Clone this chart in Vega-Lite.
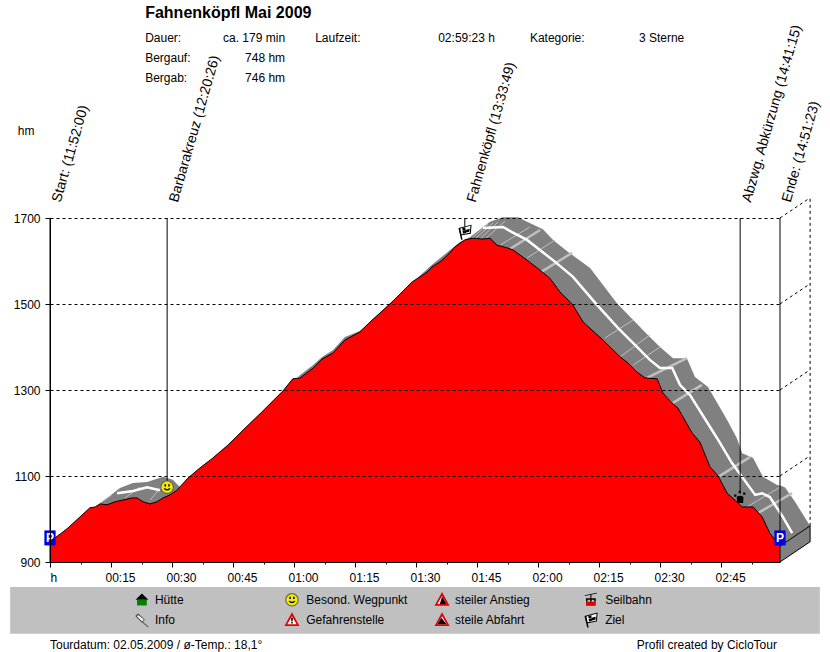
{
  "$schema": "https://vega.github.io/schema/vega-lite/v6.json",
  "width": 730,
  "height": 344,
  "autosize": "none",
  "padding": {"left": 50, "top": 218, "right": 50, "bottom": 90},
  "background": "white",
  "config": {"view": {"stroke": null}, "font": "Liberation Sans"},
  "datasets": {
    "profile": [
      {"min":0,"hm":942},{"min":1.2,"hm":956},{"min":3.2,"hm":970},{"min":4.4,"hm":979},{"min":7.4,"hm":1005},{"min":9.8,"hm":1026},{"min":11.1,"hm":1028},{"min":12.3,"hm":1035},{"min":14,"hm":1033},{"min":16,"hm":1040},{"min":17.9,"hm":1044},{"min":20.2,"hm":1049},{"min":21.4,"hm":1049},{"min":22.9,"hm":1040},{"min":24.6,"hm":1035},{"min":26.3,"hm":1040},{"min":27.8,"hm":1049},{"min":29.5,"hm":1056},{"min":31.2,"hm":1067},{"min":33.9,"hm":1095},{"min":36.9,"hm":1119},{"min":39.8,"hm":1140},{"min":41.8,"hm":1156},{"min":43.8,"hm":1172},{"min":47.5,"hm":1207},{"min":52.1,"hm":1249},{"min":57.3,"hm":1298},{"min":59.7,"hm":1326},{"min":61.5,"hm":1328},{"min":64.7,"hm":1351},{"min":66.9,"hm":1372},{"min":69.6,"hm":1386},{"min":72.5,"hm":1416},{"min":76.2,"hm":1435},{"min":78.7,"hm":1458},{"min":83.6,"hm":1500},{"min":89,"hm":1551},{"min":92.7,"hm":1574},{"min":93.9,"hm":1586},{"min":95.9,"hm":1598},{"min":97.6,"hm":1612},{"min":99.6,"hm":1633},{"min":102,"hm":1649},{"min":104,"hm":1653},{"min":106.5,"hm":1651},{"min":108.2,"hm":1653},{"min":109.9,"hm":1637},{"min":112.6,"hm":1630},{"min":113.8,"hm":1626},{"min":116.3,"hm":1609},{"min":119.8,"hm":1584},{"min":122.9,"hm":1560},{"min":125.4,"hm":1528},{"min":128.4,"hm":1500},{"min":131.1,"hm":1458},{"min":136,"hm":1416},{"min":140.2,"hm":1377},{"min":142.1,"hm":1363},{"min":144.3,"hm":1342},{"min":146.3,"hm":1328},{"min":149.3,"hm":1326},{"min":150.7,"hm":1293},{"min":152.9,"hm":1270},{"min":154.4,"hm":1258},{"min":157.9,"hm":1200},{"min":159.8,"hm":1179},{"min":162.3,"hm":1121},{"min":164.3,"hm":1100},{"min":166.5,"hm":1060},{"min":168.9,"hm":1040},{"min":170.2,"hm":1028},{"min":172.9,"hm":1028},{"min":175.1,"hm":1005},{"min":177,"hm":967},{"min":179.5,"hm":937}
    ],
    "band": [
      {"min":11.1,"hm":1028,"base":1000},{"min":14,"hm":1049,"base":1000},{"min":17.2,"hm":1072,"base":1000},{"min":20.4,"hm":1084,"base":1000},{"min":23.9,"hm":1086,"base":1000},{"min":27.8,"hm":1098,"base":1000},{"min":30.2,"hm":1091,"base":1000},{"min":32,"hm":1074,"base":1000},{"min":33.4,"hm":1081,"base":1000},{"min":59,"hm":1309,"base":1000},{"min":61.5,"hm":1335,"base":1000},{"min":64.7,"hm":1358,"base":1000},{"min":66.9,"hm":1377,"base":1000},{"min":69.6,"hm":1393,"base":1000},{"min":72.5,"hm":1423,"base":1000},{"min":76.2,"hm":1437,"base":1000},{"min":83.6,"hm":1502,"base":1000},{"min":93.9,"hm":1591,"base":1000},{"min":100.8,"hm":1644,"base":1000},{"min":103.3,"hm":1656,"base":1000},{"min":108.2,"hm":1691,"base":1000},{"min":111.4,"hm":1702,"base":1000},{"min":115.1,"hm":1702,"base":1000},{"min":117.3,"hm":1691,"base":1000},{"min":121.2,"hm":1674,"base":1000},{"min":123.7,"hm":1649,"base":1000},{"min":127.4,"hm":1621,"base":1000},{"min":132.8,"hm":1584,"base":1000},{"min":139.4,"hm":1502,"base":1000},{"min":143.4,"hm":1463,"base":1000},{"min":147,"hm":1428,"base":1000},{"min":150,"hm":1400,"base":1000},{"min":153.2,"hm":1374,"base":1000},{"min":156.6,"hm":1374,"base":1000},{"min":158.6,"hm":1330,"base":1000},{"min":161.8,"hm":1307,"base":1000},{"min":166.5,"hm":1230,"base":1000},{"min":168.9,"hm":1188,"base":1000},{"min":170.2,"hm":1153,"base":1000},{"min":172.9,"hm":1142,"base":950},{"min":175.3,"hm":1098,"base":900},{"min":178.8,"hm":1079,"base":900},{"min":179.5,"hm":1078,"base":900},{"min":180.7,"hm":1074,"base":908},{"min":183.2,"hm":1040,"base":923},{"min":186.9,"hm":984,"base":947}
    ],
    "whiteLine": [
      {"seg":"a","min":16.5,"hm":1060},{"seg":"a","min":20.4,"hm":1065},{"seg":"a","min":23.9,"hm":1074},{"seg":"a","min":27,"hm":1067},
      {"seg":"b","min":106.5,"hm":1677},{"seg":"b","min":111.4,"hm":1679},{"seg":"b","min":113.6,"hm":1667},{"seg":"b","min":117.3,"hm":1649},{"seg":"b","min":124.2,"hm":1598},{"seg":"b","min":128.6,"hm":1563},{"seg":"b","min":134.5,"hm":1498},{"seg":"b","min":139.7,"hm":1444},{"seg":"b","min":143.4,"hm":1409},{"seg":"b","min":147.5,"hm":1370},{"seg":"b","min":150,"hm":1351},{"seg":"b","min":153,"hm":1351},{"seg":"b","min":154.9,"hm":1312},{"seg":"b","min":157.4,"hm":1288},{"seg":"b","min":162.3,"hm":1214},{"seg":"b","min":164.3,"hm":1184},{"seg":"b","min":167.7,"hm":1130},{"seg":"b","min":173.4,"hm":1056},{"seg":"b","min":175.1,"hm":1060},{"seg":"b","min":177,"hm":1051},{"seg":"b","min":180.2,"hm":1005},{"seg":"b","min":182.5,"hm":967}
    ],
    "tiesThick": [
      {"min":113.1,"hm":1628,"min2":120.5,"hm2":1672},{"min":120.7,"hm":1574,"min2":128.4,"hm2":1619},{"min":146.8,"hm":1328,"min2":156.6,"hm2":1374},{"min":153.2,"hm":1270,"min2":160.3,"hm2":1312},{"min":164.3,"hm":1098,"min2":172.1,"hm2":1144},{"min":174.1,"hm":1014,"min2":182.5,"hm2":1060}
    ],
    "tiesThin": [
      {"min":110.7,"hm":1637,"min2":118,"hm2":1679},{"min":117.3,"hm":1607,"min2":124.2,"hm2":1649},{"min":136.5,"hm":1421,"min2":143.4,"hm2":1463},{"min":140.2,"hm":1377,"min2":147.5,"hm2":1428},{"min":143.4,"hm":1358,"min2":150,"hm2":1400},{"min":171.4,"hm":1028,"min2":179.5,"hm2":1074},{"min":103.3,"hm":1649,"min2":107.7,"hm2":1686},{"min":104.5,"hm":1651,"min2":108.9,"hm2":1688},{"min":105.7,"hm":1651,"min2":110.2,"hm2":1691},{"min":107,"hm":1651,"min2":111.9,"hm2":1693},{"min":12.3,"hm":1037,"min2":15.2,"hm2":1056},{"min":18.4,"hm":1049,"min2":22.1,"hm2":1074},{"min":24.6,"hm":1044,"min2":28.3,"hm2":1084}
    ],
    "solidRules": [
      {"min":0,"hm":900,"min2":0,"hm2":1700},{"min":179.5,"hm":900,"min2":179.5,"hm2":1700},{"min":28.8,"hm":1080,"min2":28.8,"hm2":1700},{"min":102,"hm":1680,"min2":102,"hm2":1700},{"min":169.7,"hm":1060,"min2":169.7,"hm2":1700},{"min":179.5,"hm":900,"min2":186.9,"hm2":947},{"min":179.5,"hm":937,"min2":186.9,"hm2":984},{"min":186.9,"hm":947,"min2":186.9,"hm2":984}
    ],
    "dashRules": [
      {"min":179.5,"hm":1700,"min2":186.9,"hm2":1747},{"min":179.5,"hm":1500,"min2":186.9,"hm2":1547},{"min":179.5,"hm":1300,"min2":186.9,"hm2":1347},{"min":179.5,"hm":1100,"min2":186.9,"hm2":1147},{"min":186.9,"hm":984,"min2":186.9,"hm2":1747}
    ],
    "legendBox": [{"min":-9.8,"min2":189.3,"hm":842,"hm2":733}],
    "waypoints": [
      {"label":"Start: (11:52:00)","min":0,"hm":1742},{"label":"Barbarakreuz (12:20:26)","min":28.8,"hm":1742},{"label":"Fahnenköpfl (13:33:49)","min":102,"hm":1742},{"label":"Abzwg. Abkürzung (14:41:15)","min":169.7,"hm":1742},{"label":"Ende: (14:51:23)","min":179.5,"hm":1742}
    ],
    "textLeft": [
      {"label":"Dauer:","min":23.4,"hm":2119},{"label":"Bergauf:","min":23.4,"hm":2072},{"label":"Bergab:","min":23.4,"hm":2026},{"label":"Laufzeit:","min":65.2,"hm":2119},{"label":"Kategorie:","min":118,"hm":2119},{"label":"3 Sterne","min":144.8,"hm":2119},{"label":"hm","min":-7.9,"hm":1902},
      {"label":"Hütte","min":25.8,"hm":812},{"label":"Info","min":25.8,"hm":765},{"label":"Besond. Wegpunkt","min":63,"hm":812},{"label":"Gefahrenstelle","min":63,"hm":765},{"label":"steiler Anstieg","min":99.6,"hm":812},{"label":"steile Abfahrt","min":99.6,"hm":765},{"label":"Seilbahn","min":136.5,"hm":812},{"label":"Ziel","min":136.5,"hm":765},
      {"label":"Tourdatum: 02.05.2009  /  ø-Temp.: 18,1°","min":0,"hm":707},{"label":"Profil created by CicloTour","min":144.3,"hm":707}
    ],
    "textRight": [
      {"label":"ca. 179 min","min":57.8,"hm":2119},{"label":"748 hm","min":57.8,"hm":2072},{"label":"746 hm","min":57.8,"hm":2026},{"label":"02:59:23 h","min":109.4,"hm":2119}
    ],
    "heading": [{"label":"Fahnenköpfl Mai 2009","min":23.4,"hm":2177}],
    "parking": [{"label":"P","min":0,"hm":956},{"label":"P","min":179.5,"hm":956}],
    "icons": [
      {"part":"pbox","min":0,"hm":956},{"part":"pbox","min":179.5,"hm":956},
      {"part":"flagEdge","min":102,"hm":1667},{"part":"flag","min":102,"hm":1667},{"part":"flagpole","min":102,"hm":1667},{"part":"checks","min":102,"hm":1667},
      {"part":"smileEdge","min":28.8,"hm":1074},{"part":"smile","min":28.8,"hm":1074},{"part":"face","min":28.8,"hm":1074},
      {"part":"paw","min":169.7,"hm":1051},
      {"part":"roof","min":22.6,"hm":812},{"part":"hut","min":22.6,"hm":812},
      {"part":"pinEdge","min":22.6,"hm":765},{"part":"pin","min":22.6,"hm":765},
      {"part":"smileEdge","min":59.5,"hm":812},{"part":"smile","min":59.5,"hm":812},{"part":"face","min":59.5,"hm":812},
      {"part":"warn","min":59.5,"hm":765},{"part":"warnIn","min":59.5,"hm":765},{"part":"bang","min":59.5,"hm":765},
      {"part":"warn","min":96.4,"hm":812},{"part":"warnIn","min":96.4,"hm":812},{"part":"climb","min":96.4,"hm":812},
      {"part":"warn","min":96.4,"hm":765},{"part":"warnIn","min":96.4,"hm":765},{"part":"descent","min":96.4,"hm":765},
      {"part":"cable","min":133,"hm":812},{"part":"cabin","min":133,"hm":812},
      {"part":"flagEdge","min":133,"hm":765},{"part":"flag","min":133,"hm":765},{"part":"flagpole","min":133,"hm":765},{"part":"checks","min":133,"hm":765}
    ]
  },
  "encoding": {
    "x": {
      "field": "min",
      "type": "quantitative",
      "scale": {"domain": [0, 179.5], "nice": false, "zero": false},
      "axis": {
        "title": null,
        "zindex": 1,
        "grid": false,
        "values": [0,7.5,15,22.5,30,37.5,45,52.5,60,67.5,75,82.5,90,97.5,105,112.5,120,127.5,135,142.5,150,157.5,165,172.5],
        "labelExpr": "datum.value == 0 ? 'h' : (datum.value % 15 != 0 ? '' : pad(floor(datum.value / 60), 2, '0', 'left') + ':' + pad(datum.value % 60, 2, '0', 'left'))",
        "labelAlign": "left",
        "labelOffset": {"condition": {"test": "datum.value == 0", "value": 0}, "value": -6},
        "labelOverlap": false,
        "labelFlush": false,
        "labelFontSize": 12,
        "labelFont": "Liberation Sans",
        "labelColor": "black",
        "labelPadding": 5,
        "tickColor": "black",
        "tickSize": {"condition": {"test": "datum.value % 15 == 0", "value": 5}, "value": 2},
        "domainColor": "black"
      }
    },
    "y": {
      "field": "hm",
      "type": "quantitative",
      "scale": {"domain": [900, 1700], "nice": false, "zero": false},
      "axis": {
        "title": null,
        "zindex": 1,
        "values": [900, 1100, 1300, 1500, 1700],
        "format": "d",
        "grid": true,
        "gridColor": "black",
        "gridDash": [3, 3],
        "gridOpacity": 1,
        "labelFontSize": 12,
        "labelFont": "Liberation Sans",
        "labelColor": "black",
        "labelPadding": 5,
        "tickColor": "black",
        "tickSize": 5,
        "domainColor": "black"
      }
    }
  },
  "layer": [
    {
      "data": {"name": "legendBox"},
      "mark": {"type": "rect", "color": "#c0c0c0"},
      "encoding": {"x2": {"field": "min2"}, "y2": {"field": "hm2"}}
    },
    {
      "data": {"name": "band"},
      "mark": {"type": "area", "color": "#808080", "opacity": 1},
      "encoding": {"y2": {"field": "base"}}
    },
    {
      "data": {"name": "tiesThick"},
      "mark": {"type": "rule", "color": "#c0c0c0", "strokeWidth": 2.5},
      "encoding": {"x2": {"field": "min2"}, "y2": {"field": "hm2"}}
    },
    {
      "data": {"name": "tiesThin"},
      "mark": {"type": "rule", "color": "#c0c0c0", "strokeWidth": 1},
      "encoding": {"x2": {"field": "min2"}, "y2": {"field": "hm2"}}
    },
    {
      "data": {"name": "whiteLine"},
      "mark": {"type": "line", "color": "white", "strokeWidth": 2.5, "interpolate": "linear"},
      "encoding": {"detail": {"field": "seg"}}
    },
    {
      "data": {"name": "profile"},
      "mark": {"type": "area", "color": "#ff0000", "opacity": 1},
      "encoding": {"y2": {"datum": 900}}
    },
    {
      "data": {"name": "profile"},
      "mark": {"type": "line", "color": "black", "strokeWidth": 1}
    },
    {
      "data": {"name": "solidRules"},
      "mark": {"type": "rule", "color": "black", "strokeWidth": 1},
      "encoding": {"x2": {"field": "min2"}, "y2": {"field": "hm2"}}
    },
    {
      "data": {"name": "dashRules"},
      "mark": {"type": "rule", "color": "black", "strokeWidth": 1, "strokeDash": [3, 3]},
      "encoding": {"x2": {"field": "min2"}, "y2": {"field": "hm2"}}
    },
    {
      "data": {"name": "icons"},
      "mark": {"type": "point", "filled": true, "size": 225, "opacity": 1},
      "encoding": {
        "shape": {
          "field": "part",
          "legend": null,
          "scale": {
            "domain": ["pbox","flagEdge","flag","flagpole","checks","smileEdge","smile","face","paw","roof","hut","pinEdge","pin","warn","warnIn","bang","climb","descent","cable","cabin"],
            "range": [
              "M-.75 -1H.75V1H-.75Z",
              "M-.85 -.55L.9 -1L.8 .2L-.6 .45Z",
              "M-.7 -.45L.75 -.85L.67 .08L-.52 .3Z",
              "M-.8 -.5L-.5 1H-.3L-.6 -.5Z",
              "M-.35 -.55L.05 -.65L.1 -.3L-.3 -.2ZM.1 -.3L.65 -.45L.6 -.05L.15 .05ZM-.3 -.15L.1 -.25L.15 .1L-.25 .2Z",
              "M-.9 0A.9 .9 0 1 1 .9 0A.9 .9 0 1 1 -.9 0Z",
              "M-.75 0A.75 .75 0 1 1 .75 0A.75 .75 0 1 1 -.75 0Z",
              "M-.35 -.4h.2v.3h-.2ZM.15 -.4h.2v.3h-.2ZM-.45 .2Q0 .7 .45 .2L.35 .12Q0 .42 -.35 .12Z",
              "M-.45 0Q0 -.35 .45 0L.4 .8H-.4ZM-.8 -.35h.3v.3h-.3ZM-.2 -.8h.3v.3h-.3ZM.4 -.6h.3v.3h-.3Z",
              "M-.85 0L0 -.85L.85 0Z",
              "M-.65 0H.65V.75H-.65Z",
              "M-.9 -.55L-.5 -.9L.4 -.05L0 .35ZM.1 .2L.9 .9L.8 1L0 .3Z",
              "M-.65 -.5L-.45 -.65L.25 -.05L.02 .15Z",
              "M0 -1.05L1 .8H-1Z",
              "M0 -.5L.62 .55H-.62Z",
              "M-.13 -.3H.13L.07 .2H-.07ZM-.1 .27H.1V.47H-.1Z",
              "M-.3 .55L.02 -.45L.6 .55Z",
              "M-.6 .55L-.1 -.3L.6 .55Z",
              "M-.8 -.6L.8 -.95L.8 -.85L-.8 -.5ZM-.07 -.7H.07V-.15H-.07ZM-.65 -.2H.65V.25H.45V0H.1V.25H-.1V0H-.45V.25H-.65Z",
              "M-.65 .25H.65V.8H-.65Z"
            ]
          }
        },
        "fill": {
          "field": "part",
          "legend": null,
          "scale": {
            "domain": ["pbox","flagEdge","flag","flagpole","checks","smileEdge","smile","face","paw","roof","hut","pinEdge","pin","warn","warnIn","bang","climb","descent","cable","cabin"],
            "range": ["#0000e0","#000000","#ffffff","#000000","#000000","#666633","#f2e813","#000000","#000000","#000000","#008000","#555555","#ffffff","#e00000","#ffffff","#000000","#000000","#000000","#000000","#e00000"]
          }
        }
      }
    },
    {
      "data": {"name": "parking"},
      "mark": {"type": "text", "color": "white", "fontWeight": "bold", "fontSize": 12, "align": "center", "baseline": "middle"},
      "encoding": {"text": {"field": "label"}}
    },
    {
      "data": {"name": "waypoints"},
      "mark": {"type": "text", "color": "black", "fontSize": 14, "align": "left", "baseline": "top", "angle": 286},
      "encoding": {"text": {"field": "label"}}
    },
    {
      "data": {"name": "textLeft"},
      "mark": {"type": "text", "color": "black", "fontSize": 12, "align": "left", "baseline": "middle"},
      "encoding": {"text": {"field": "label"}}
    },
    {
      "data": {"name": "textRight"},
      "mark": {"type": "text", "color": "black", "fontSize": 12, "align": "right", "baseline": "middle"},
      "encoding": {"text": {"field": "label"}}
    },
    {
      "data": {"name": "heading"},
      "mark": {"type": "text", "color": "black", "fontSize": 16, "fontWeight": "bold", "align": "left", "baseline": "middle"},
      "encoding": {"text": {"field": "label"}}
    }
  ]
}
